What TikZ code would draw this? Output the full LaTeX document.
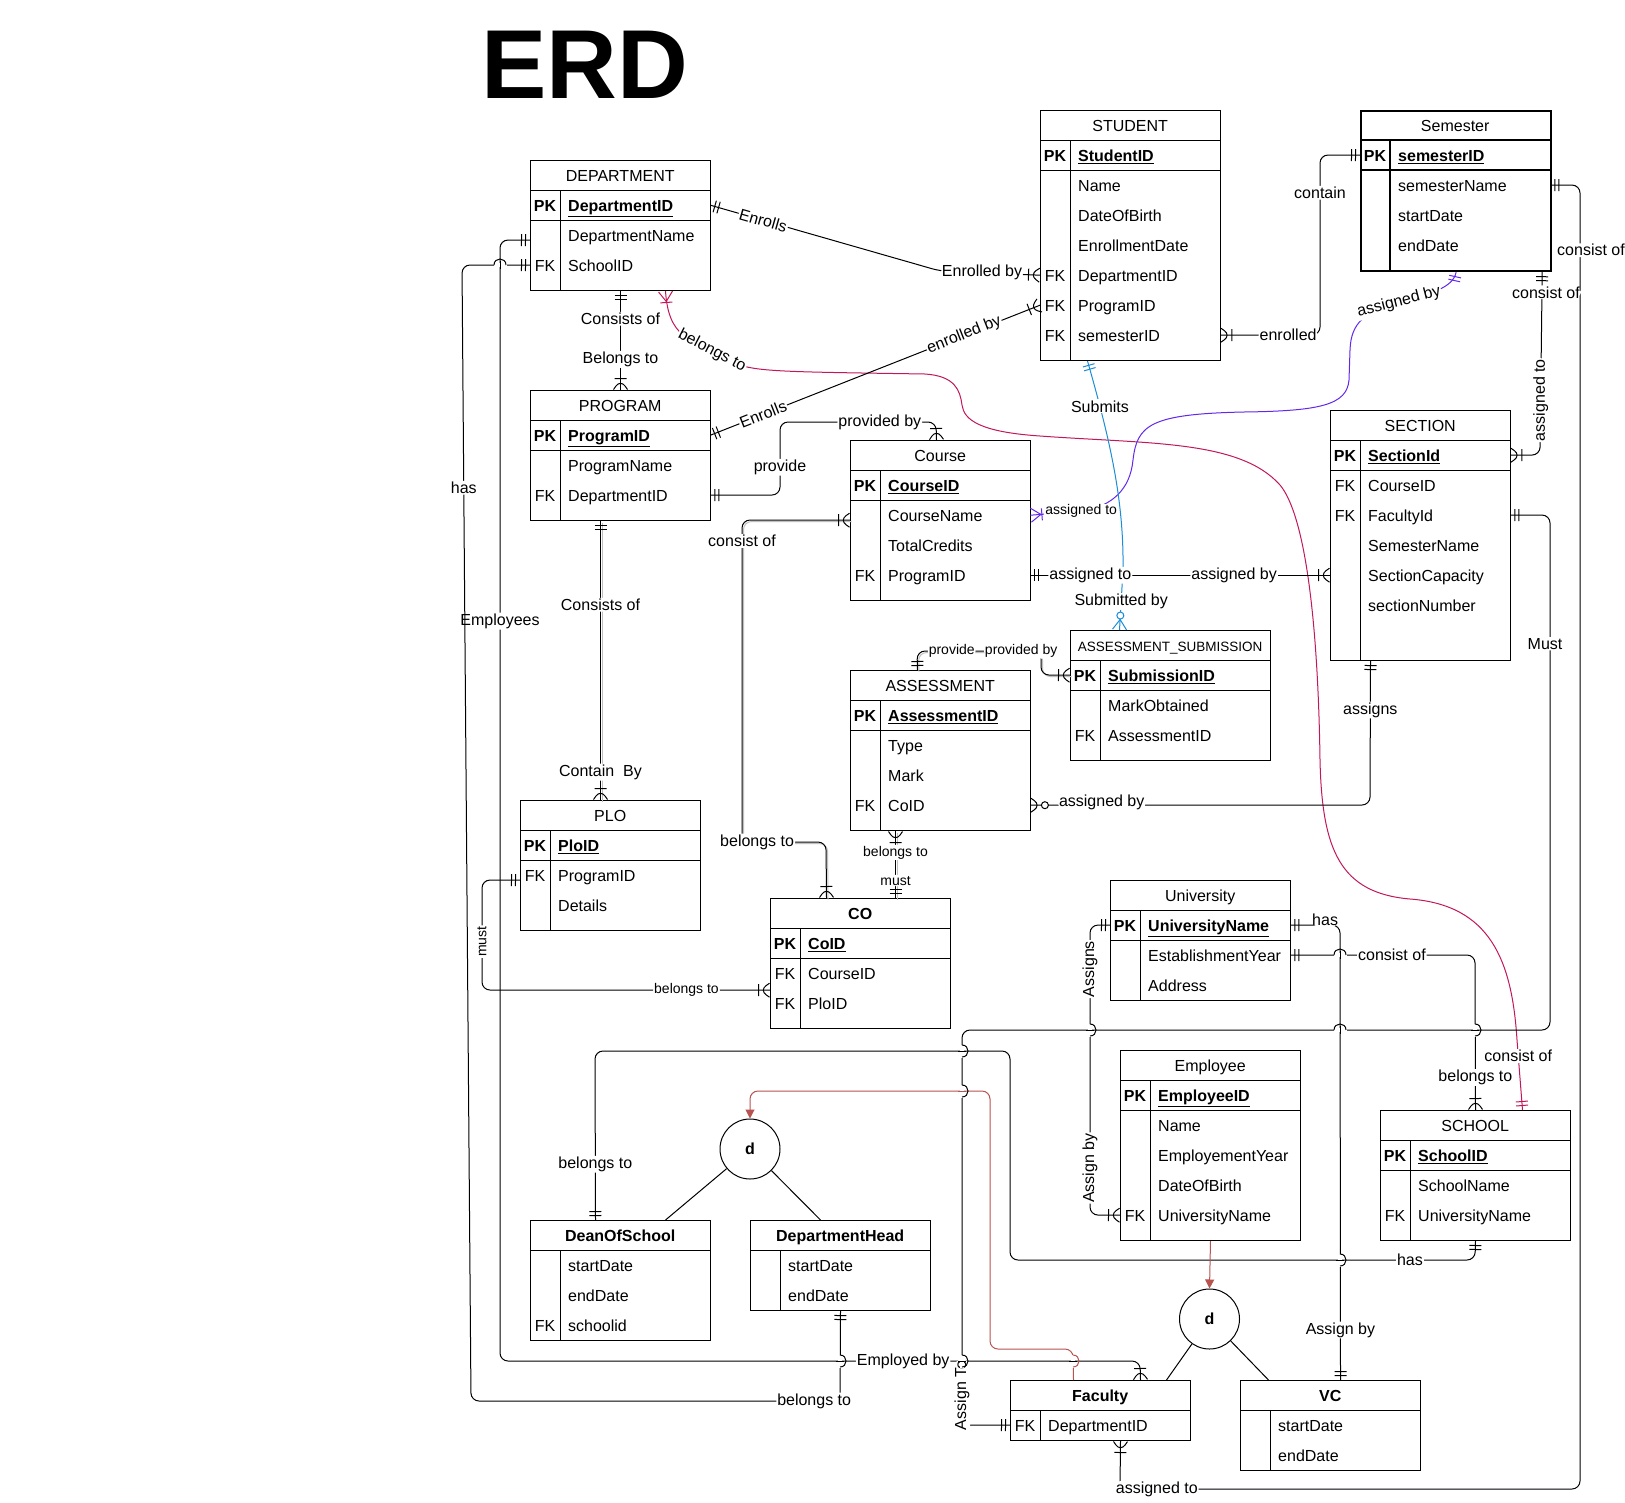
\documentclass[tikz,border=0pt]{standalone}
\usepackage{fontspec}
\setmainfont{Liberation Sans}
\usepackage{tikz}
\usetikzlibrary{arrows.meta,decorations.markings,calc,positioning}

\definecolor{crimsonc}{RGB}{194,24,91}
\definecolor{purplec}{RGB}{98,40,235}
\definecolor{bluec}{RGB}{27,141,214}
\definecolor{redc}{RGB}{184,84,80}

\newcommand{\erdfont}{\fontsize{16}{19}\selectfont}
\newcommand{\erdsmall}{\fontsize{14}{17}\selectfont}

% line jumps where two connectors cross
\newcommand{\hbridge}[2]{%
  \fill[white] ({#1-6.5},{#2-2}) rectangle ({#1+6.5},{#2+2});
  \draw[line width=1pt] (#1,{#2-4}) -- (#1,{#2+4});
  \draw[line width=1pt] ({#1-6},#2) .. controls ({#1-6},{#2-8}) and ({#1+6},{#2-8}) .. ({#1+6},#2);
}
\newcommand{\vbridge}[4]{%
  \fill[white] ({#1-2},{#2-6.5}) rectangle ({#1+2},{#2+6.5});
  \draw[line width=1pt, #4] ({#1-4},#2) -- ({#1+4},#2);
  \draw[line width=1pt, #3] (#1,{#2-6}) .. controls ({#1+8},{#2-6}) and ({#1+8},{#2+6}) .. (#1,{#2+6});
}

% entity table: [box style] name, x, y, width, title, pk field, rows, bottom pad
\newcommand{\erdtable}[9][]{%
  \node[titlecell, minimum width=#5pt, anchor=north west] (#2-title) at (#3,#4) {#6};
  \pgfmathsetmacro{\rowtop}{#4+30}%
  \if\relax\detokenize{#7}\relax\else
    \node[rowcell, minimum width=#5pt, anchor=north west] (#2-pk) at (#3,#4+30) {};
    \node[keycell, font=\erdfont\bfseries] at (#3+15,#4+45) {PK};
    \node[fieldcell] at (#3+38,#4+45) {\textbf{\underline{#7}}};
    \pgfmathsetmacro{\rowtop}{#4+60}%
  \fi
  \foreach \k/\f [count=\i] in {#8} {
    \node[rowcell, minimum width=#5pt, anchor=north west] (#2-\i) at (#3,\rowtop+30*\i-30) {};
    \node[keycell] at (#3+15,\rowtop+30*\i-15) {\k};
    \node[fieldcell] at (#3+38,\rowtop+30*\i-15) {\f};
    \xdef\nrows{\i}
  }
  \pgfmathsetmacro{\tblh}{\rowtop-#4+30*\nrows+#9}%
  \node[tablebox, minimum width=#5pt, minimum height=\tblh pt, anchor=north west, #1] (#2) at (#3,#4) {};
  \draw[tableline, #1] (#3,#4+30) -- ++(#5,0);
  \if\relax\detokenize{#7}\relax\else
    \draw[tableline, #1] (#3,#4+60) -- ++(#5,0);
  \fi
  \draw[tableline, #1] (#3+30,#4+30) -- (#3+30,#4+\tblh);
}

\begin{document}
\begin{tikzpicture}[
  x=1pt, y=-1pt,
  titlecell/.style={font=\erdfont, minimum height=30pt, inner sep=0, text height=13pt, text depth=0pt},
  rowcell/.style={minimum height=30pt, inner sep=0},
  keycell/.style={font=\erdfont, inner sep=0, text height=13pt, text depth=0pt},
  fieldcell/.style={font=\erdfont, anchor=west, inner sep=0, text height=13pt, text depth=0pt},
  tablebox/.style={draw, line width=1pt, inner sep=0},
  tableline/.style={line width=1pt},
  rel/.style={line width=1pt, rounded corners=8pt},
  relc/.style={line width=1pt},
  shadowed/.style={preaction={draw=black!25, line width=1pt, transform canvas={shift={(1.5pt,-1.5pt)}}}},
  lbl/.style={font=\erdfont, fill=white, text=black, inner sep=1pt},
  slbl/.style={font=\erdsmall, fill=white, text=black, inner sep=1pt},
  disjoint/.style={circle, draw, line width=1pt, minimum size=60pt, inner sep=0, font=\erdfont\bfseries},
  isa/.style={line width=1pt, color=redc, rounded corners=8pt, -{Triangle[length=9pt,width=9pt]}},
  one start/.style={postaction={decorate, decoration={markings, mark=at position 0.5pt with {\draw[line width=1pt] (4pt,-6pt) -- (4pt,6pt) (8pt,-6pt) -- (8pt,6pt);}}}},
  one end/.style={postaction={decorate, decoration={markings, mark=at position -0.5pt with {\draw[line width=1pt] (-4pt,-6pt) -- (-4pt,6pt) (-8pt,-6pt) -- (-8pt,6pt);}}}},
  many start/.style={postaction={decorate, decoration={markings, mark=at position 0.5pt with {\draw[line width=1pt] (0pt,-7pt) -- (10pt,0pt) -- (0pt,7pt) (11pt,-6pt) -- (11pt,6pt);}}}},
  many end/.style={postaction={decorate, decoration={markings, mark=at position -0.5pt with {\draw[line width=1pt] (0pt,-7pt) -- (-10pt,0pt) -- (0pt,7pt) (-11pt,-6pt) -- (-11pt,6pt);}}}},
  zmany start/.style={postaction={decorate, decoration={markings, mark=at position 0.5pt with {\draw[line width=1pt] (0pt,-7pt) -- (10pt,0pt) -- (0pt,7pt); \draw[line width=1pt, fill=white] (14pt,0pt) circle[radius=3.5pt];}}}},
  zmany end/.style={postaction={decorate, decoration={markings, mark=at position -0.5pt with {\draw[line width=1pt] (0pt,-7pt) -- (-10pt,0pt) -- (0pt,7pt); \draw[line width=1pt, fill=white] (-14pt,0pt) circle[radius=3.5pt];}}}}
]
\fill[white] (0,0) rectangle (1625,1502);
\useasboundingbox (0,0) rectangle (1625,1502);

% Title
\node[font=\fontsize{98}{100}\selectfont\bfseries] (title) at (585,65) {ERD};

% Entities
\erdtable{dept}{530}{160}{180}{DEPARTMENT}{DepartmentID}{/DepartmentName, FK/SchoolID}{10}
\erdtable{prog}{530}{390}{180}{PROGRAM}{ProgramID}{/ProgramName, FK/DepartmentID}{10}
\erdtable{stud}{1040}{110}{180}{STUDENT}{StudentID}{/Name, /DateOfBirth, /EnrollmentDate, FK/DepartmentID, FK/ProgramID, FK/semesterID}{10}
\erdtable[line width=2.2pt]{sem}{1360}{110}{190}{Semester}{semesterID}{/semesterName, /startDate, /endDate}{10}
\erdtable{course}{850}{440}{180}{Course}{CourseID}{/CourseName, /TotalCredits, FK/ProgramID}{10}
\erdtable{sect}{1330}{410}{180}{SECTION}{SectionId}{FK/CourseID, FK/FacultyId, /SemesterName, /SectionCapacity, /sectionNumber}{40}
\erdtable{sub}{1070}{630}{200}{{\fontsize{13.5}{16}\selectfont ASSESSMENT\_SUBMISSION}}{SubmissionID}{/MarkObtained, FK/AssessmentID}{10}
\erdtable{asmt}{850}{670}{180}{ASSESSMENT}{AssessmentID}{/Type, /Mark, FK/CoID}{10}
\erdtable{plo}{520}{800}{180}{PLO}{PloID}{FK/ProgramID, /Details}{10}
\erdtable{co}{770}{898}{180}{\textbf{CO}}{CoID}{FK/CourseID, FK/PloID}{10}
\erdtable{uni}{1110}{880}{180}{University}{UniversityName}{/EstablishmentYear, /Address}{0}
\erdtable{emp}{1120}{1050}{180}{Employee}{EmployeeID}{/Name, /EmployementYear, /DateOfBirth, FK/UniversityName}{10}
\erdtable{school}{1380}{1110}{190}{SCHOOL}{SchoolID}{/SchoolName, FK/UniversityName}{10}
\erdtable{dean}{530}{1220}{180}{\textbf{DeanOfSchool}}{}{/startDate, /endDate, FK/schoolid}{0}
\erdtable{dh}{750}{1220}{180}{\textbf{DepartmentHead}}{}{/startDate, /endDate}{0}
\erdtable{fac}{1010}{1380}{180}{\textbf{Faculty}}{}{FK/DepartmentID}{0}
\erdtable{vc}{1240}{1380}{180}{\textbf{VC}}{}{/startDate, /endDate}{0}

% Disjoint specialisations
\node[disjoint] (disj1) at (750,1149) {d};
\node[disjoint] (disj2) at (1209.5,1319) {d};

% Department relations
\draw[rel, one start, many end] (dept.south) -- (prog.north)
  node[lbl, pos=0.28] {Consists of} node[lbl, pos=0.69] {Belongs to};
\draw[rel, one start, many end] (dept-pk.east) -- (940,271) node[lbl, sloped, pos=0.23] {Enrolls}
  -- (stud-4.west) node[lbl, pos=0.42] {Enrolled by};
\draw[rel, one start, many end] ([yshift=-5pt]dept-1.west) -- (500,240) -- (500,1361) node[lbl, pos=0.34] {Employees}
  -- (1140,1361) node[lbl, pos=0.63] {Employed by} -- ([xshift=40pt]fac.north);
\draw[rel, one start, one end] (dept-2.west) -- (462,265)
  -- (471,1401) node[lbl, pos=0.196] {has} -- (840,1401) node[lbl, pos=0.93] {belongs to} -- (dh.south);
\draw[relc, color=crimsonc, many start, one end] ([xshift=45pt]dept.south) .. controls (667,313) and (672,326) .. (684,336)
  -- (740,365) node[lbl, sloped, pos=0.5] {belongs to}
  .. controls (760,372) and (800,372) .. (925,374) .. controls (955,376) and (960,390) .. (962,405)
  .. controls (964,420) and (980,432) .. (1040,436) .. controls (1150,444) and (1240,440) .. (1280,485)
  .. controls (1305,515) and (1318,620) .. (1320,760) .. controls (1322,850) and (1340,893) .. (1410,899)
  .. controls (1490,905) and (1512,960) .. (1517,1040)
  -- ([xshift=47pt]school.north) node[lbl, pos=0.23] {consist of};

% Program relations
\draw[rel, one start, many end] (prog-pk.east) -- (stud-5.west)
  node[lbl, sloped, pos=0.16] {Enrolls} node[lbl, sloped, pos=0.77] {enrolled by};
\draw[rel, one start, many end] (prog-2.east) -- (780,495) -- (780,422) node[lbl, pos=0.38] {provide}
  -- (936,422) node[lbl, pos=0.64] {provided by} -- ([xshift=-4pt]course.north);
\draw[rel, shadowed, one start, many end] ([xshift=-20pt]prog.south) -- ([xshift=-10pt]plo.north)
  node[lbl, pos=0.3] {Consists of} node[lbl, pos=0.9] {Contain~~By};

% Student and semester
\draw[rel, many start, one end] (stud-6.east) -- (1320,335) node[lbl, pos=0.68] {enrolled}
  -- (1320,155) node[lbl, pos=0.79] {contain} -- (sem-pk.west);
\draw[rel, one start, many end] (sem-1.east) -- (1580,185) -- (1580,1489) node[lbl, pos=0.05, xshift=11pt] {consist of}
  -- (1120,1489) node[lbl, pos=0.92] {assigned to} -- ([xshift=20pt]fac.south);
\draw[rel, one start, many end] ([xshift=-10pt]sem.south east) -- (1540,455)
  node[lbl, pos=0.11, xshift=4pt] {consist of} node[lbl, rotate=90, pos=0.7] {assigned to} -- (sect-pk.east);
\draw[relc, color=purplec, one start, many end] (sem.south) .. controls (1453,288) and (1430,294) .. (1399,302)
  node[lbl, sloped, pos=1] {assigned by}
  .. controls (1365,312) and (1351,322) .. (1350,350) -- (1349,380)
  .. controls (1347,405) and (1320,411) .. (1244,412) .. controls (1150,414) and (1137,425) .. (1133,460)
  .. controls (1130,490) and (1112,505) .. (1085,511) -- (course-1.east) node[slbl, pos=0.07] {assigned to};
\draw[relc, color=bluec, one start, zmany end] ([xshift=-43pt]stud.south) .. controls (1110,440) and (1124,500) .. (1123,570)
  node[lbl, pos=0.2] {Submits} -- ([xshift=-51pt]sub.north) node[lbl, pos=0.52] {Submitted by};

% Course, assessment and outcomes
\draw[rel, shadowed, many start, many end] ([yshift=-5pt]course-1.west) -- (742,520) -- (742,842) node[lbl, pos=0.065] {consist of}
  -- (826,842) node[lbl, pos=0.18] {belongs to} -- ([xshift=-34pt]co.north);
\draw[rel, one start, many end] (course-3.east) -- (sect-4.west)
  node[lbl, pos=0.2] {assigned to} node[lbl, pos=0.68] {assigned by};
\draw[rel, one start, many end] ([yshift=-5pt]plo-1.west) -- (482,880) -- (482,990) node[slbl, rotate=90, pos=0.56] {must}
  -- ([yshift=13pt]co-2.west) node[slbl, pos=0.71] {belongs to};
\draw[rel, shadowed, many start, one end] ([xshift=-45pt]asmt.south) -- ([xshift=35pt]co.north)
  node[slbl, pos=0.32] {belongs to} node[slbl, pos=0.74] {must};
\draw[rel, zmany start, one end] (asmt-3.east) -- (1370,805) node[lbl, pos=0.21, yshift=3pt] {assigned by}
  -- ([xshift=-50pt]sect.south) node[lbl, pos=0.66] {assigns};
\draw[rel, shadowed, one start, many end] ([xshift=-23pt]asmt.north) -- (917,651) -- (1041,651)
  node[slbl, pos=0.28] {provide} node[slbl, pos=0.84] {provided by} -- (1041,675) -- (sub-pk.west);

% University, school and staff
\draw[rel, one start, many end] (uni-pk.west) -- (1090,925) -- (1090,1215)
  node[lbl, rotate=90, pos=0.152] {Assigns} node[lbl, rotate=90, pos=0.838] {Assign by} -- (emp-4.west);
\draw[rel, one start, one end] (uni-pk.east) -- (1340,925) node[lbl, pos=0.7, yshift=5pt] {has}
  -- ([xshift=10pt]vc.north) node[lbl, pos=0.89] {Assign by};
\draw[rel, one start, many end] (uni-1.east) -- (1475,955) node[lbl, pos=0.55] {consist of}
  -- (school.north) node[lbl, pos=0.79] {belongs to};
\draw[rel, one start, one end] (sect-2.east) -- (1550,515) -- (1550,1030) node[lbl, pos=0.25, xshift=-5pt] {Must}
  -- (962,1030) -- (962,1425) node[lbl, rotate=90, pos=0.925] {Assign To} -- (fac-1.west);
\draw[rel, one start, one end] ([xshift=-25pt]dean.north) -- (595,1051) node[lbl, pos=0.33] {belongs to}
  -- (1010,1051) -- (1010,1260) -- (1475,1260) node[lbl, pos=0.86] {has} -- (school.south);

% Specialisation
\draw[isa] ([xshift=-27pt]fac.north) -- (1073,1349) -- (990,1349)
  -- (990,1091) -- (750,1091) -- (disj1.north);
\draw[isa] (emp.south) -- (disj2.north);
\draw[line width=1pt] (disj1) -- ([xshift=45pt]dean.north);
\draw[line width=1pt] (disj1) -- ([xshift=-20pt]dh.north);
\draw[line width=1pt] (disj2) -- ([xshift=66pt]fac.north);
\draw[line width=1pt] (disj2) -- ([xshift=-62pt]vc.north);

% Line jumps
\hbridge{500}{265}
\hbridge{1340}{955}
\hbridge{1340}{1030}
\vbridge{1090}{1030}{black}{black}
\vbridge{1340}{1260}{black}{black}
\vbridge{1475}{1030}{black}{black}
\vbridge{962}{1051}{black}{black}
\vbridge{962}{1091}{black}{redc}
\vbridge{962}{1361}{black}{black}
\vbridge{840}{1361}{black}{black}
\vbridge{1073}{1361}{redc}{black}

\end{tikzpicture}
\end{document}
